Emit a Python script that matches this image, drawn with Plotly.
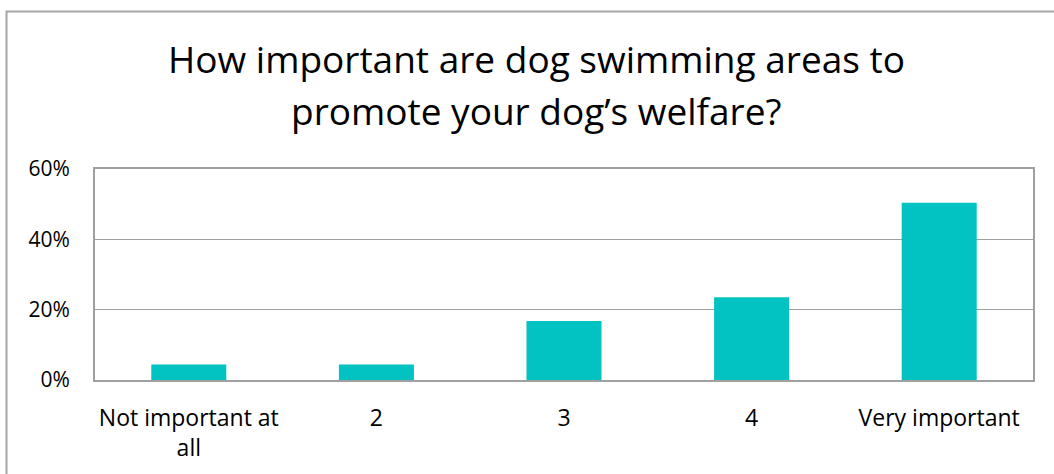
import plotly.graph_objects as go

categories = ["Not important at<br>all", "2", "3", "4", "Very important"]
shares = [0.044, 0.044, 0.168, 0.235, 0.504]
y_ticks = [0, 0.2, 0.4, 0.6]
y_tick_labels = ["0%", "20%", "40%", "60%"]
title_lines = ["How important are dog swimming areas to", "promote your dog’s welfare?"]

W, H = 1054, 474
ml, mr, mt, mb = 95, 21, 169, 94
pw, ph = W - ml - mr, H - mt - mb

font_family = "Open Sans, Noto Sans, sans-serif"
axis_grey = "#a0a0a0"

fig = go.Figure(
    go.Bar(
        x=categories,
        y=shares,
        marker=dict(color="#03c3c2", line=dict(width=0)),
        width=0.4,
        hoverinfo="skip",
    )
)

# outer chart frame (only its top and left edges fall inside the page)
fig.add_shape(
    type="rect",
    xref="paper", yref="paper",
    x0=(6.5 - ml) / pw, x1=(W + 20 - ml) / pw,
    y0=(H - mb - (H + 20)) / ph, y1=(H - mb - 11.5) / ph,
    line=dict(color="#a6a6a6", width=2),
    fillcolor="rgba(0,0,0,0)",
    layer="below",
)

# chart title, one annotation per line so the line spacing is set exactly
for line, centre_px in zip(title_lines, [58, 110]):
    fig.add_annotation(
        text=line,
        xref="paper", yref="paper",
        x=(536 - ml) / pw, xanchor="center",
        y=(H - mb - centre_px) / ph, yanchor="middle",
        showarrow=False,
        font=dict(family=font_family, size=37, color="#000000"),
    )

fig.update_layout(
    width=W, height=H,
    margin=dict(l=ml, r=mr, t=mt, b=mb, pad=0),
    paper_bgcolor="white",
    plot_bgcolor="white",
    showlegend=False,
    font=dict(family=font_family, color="#000000", size=21),
    xaxis=dict(
        showgrid=False,
        showline=True, linecolor=axis_grey, linewidth=2, mirror=True,
        ticks="", ticklabelstandoff=16,
        tickfont=dict(size=23),
    ),
    yaxis=dict(
        range=[0, 0.6],
        tickvals=y_ticks, ticktext=y_tick_labels,
        showgrid=True, gridcolor=axis_grey, gridwidth=1,
        showline=True, linecolor=axis_grey, linewidth=2, mirror=True,
        zeroline=False,
        ticks="", ticklabelstandoff=19,
        tickfont=dict(size=21),
    ),
)

fig.write_html("out.html")
